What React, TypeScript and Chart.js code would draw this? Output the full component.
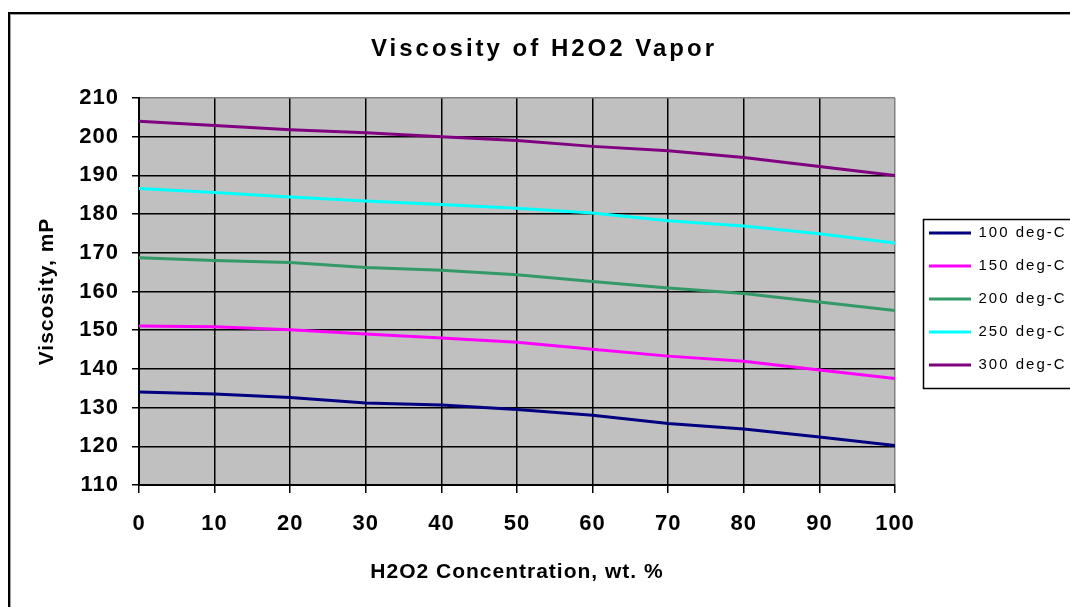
import React, { useEffect, useRef } from 'react';
import { Chart, registerables } from 'chart.js';

Chart.register(...registerables);

// ---- data ----
const concentrations = [0, 10, 20, 30, 40, 50, 60, 70, 80, 90, 100];
const visc100 = [134.0, 133.5, 132.6, 131.2, 130.7, 129.5, 128.0, 125.9, 124.5, 122.4, 120.2];
const visc150 = [151.1, 150.9, 150.1, 149.0, 148.0, 146.9, 145.1, 143.3, 142.0, 139.7, 137.5];
const visc200 = [168.7, 168.0, 167.5, 166.2, 165.5, 164.3, 162.6, 160.9, 159.5, 157.3, 155.1];
const visc250 = [186.6, 185.6, 184.4, 183.4, 182.5, 181.5, 180.3, 178.3, 176.9, 174.9, 172.5];
const visc300 = [204.0, 202.9, 201.8, 201.0, 200.0, 199.0, 197.5, 196.4, 194.6, 192.3, 190.0];
const seriesLabels = ['100 deg-C', '150 deg-C', '200 deg-C', '250 deg-C', '300 deg-C'];
const seriesColors = ['#000080', '#FF00FF', '#339966', '#00FFFF', '#800080'];
const yMin = 110;
const yMax = 210;
const yStep = 10;
const xMin = 0;
const xMax = 100;
const xStep = 10;
const chartTitle = 'Viscosity of H2O2 Vapor';
const xTitle = 'H2O2 Concentration, wt. %';
const yTitle = 'Viscosity, mP';

const FONT = "'Liberation Sans', Arial, sans-serif";
const CANVAS_W = 1072;
const CANVAS_H = 599;

function spacingFor(font: string): string {
  const m = /(\d+(?:\.\d+)?)px/.exec(font);
  const s = m ? parseFloat(m[1]) : 0;
  if (s >= 24) return '3px';
  if (s >= 20.5) return '1px';
  if (s >= 15 && s < 16) return '2px';
  return '0px';
}

function patchContext(ctx: CanvasRenderingContext2D) {
  const c = ctx as any;
  if (c.__lsPatched) return;
  c.__lsPatched = true;
  const origFill = ctx.fillText.bind(ctx);
  const origMeasure = ctx.measureText.bind(ctx);
  c.fillText = (t: string, x: number, y: number, mw?: number) => {
    const prev = c.letterSpacing;
    c.letterSpacing = spacingFor(ctx.font);
    if (mw === undefined) origFill(t, x, y);
    else origFill(t, x, y, mw);
    c.letterSpacing = prev;
  };
  c.measureText = (t: string) => {
    const prev = c.letterSpacing;
    c.letterSpacing = spacingFor(ctx.font);
    const r = origMeasure(t);
    c.letterSpacing = prev;
    return r;
  };
}

const seriesValues = [visc100, visc150, visc200, visc250, visc300];

export default function App() {
  const ref = useRef<HTMLCanvasElement>(null);

  useEffect(() => {
    const canvas = ref.current;
    if (!canvas) return;
    const ctx = canvas.getContext('2d');
    if (!ctx) return;
    patchContext(ctx);

    const datasets = seriesLabels.map((label, i) => ({
      label,
      data: concentrations.map((x, j) => ({ x, y: seriesValues[i][j] })),
      borderColor: seriesColors[i],
      backgroundColor: seriesColors[i],
      borderWidth: 3,
      pointRadius: 0,
      pointHoverRadius: 0,
      tension: 0,
      fill: false,
    }));

    const plotBg = {
      id: 'plotBg',
      beforeDraw(chart: any) {
        const { ctx: c, chartArea: a } = chart;
        c.save();
        c.fillStyle = '#C0C0C0';
        c.fillRect(a.left, a.top, a.right - a.left, a.bottom - a.top);
        c.restore();
      },
    };

    const legendTweaks = {
      id: 'legendTweaks',
      beforeLayout(chart: any) {
        const lg = chart.legend;
        if (lg && !lg.__fitPatched) {
          lg.__fitPatched = true;
          const f = lg.fit.bind(lg);
          lg.fit = () => {
            f();
            lg.width = 185;
          };
        }
      },
      afterLayout(chart: any) {
        const lg = chart.legend;
        if (!lg) return;
        lg.left = 903;
        lg.right = CANVAS_W;
        lg.width = lg.right - lg.left;
        lg.top = 199.5;
        lg.bottom = CANVAS_H;
        lg.height = lg.bottom - lg.top;
      },
      afterDraw(chart: any) {
        const lg = chart.legend;
        if (!lg || !lg.legendHitBoxes || !lg.legendHitBoxes.length) return;
        const hb = lg.legendHitBoxes;
        const left = hb[0].left - 6;
        const top = hb[0].top - 6.5;
        const last = hb[hb.length - 1];
        const bottom = last.top + last.height + 15.5;
        const c = chart.ctx;
        c.save();
        c.strokeStyle = '#000';
        c.lineWidth = 1.5;
        c.strokeRect(Math.round(left) + 0.5, Math.round(top) + 0.5, 400, Math.round(bottom - top));
        c.restore();
      },
    };

    const chart = new Chart(ctx, {
      type: 'line',
      data: { datasets },
      options: {
        animation: false,
        responsive: false,
        maintainAspectRatio: false,
        events: [],
        layout: { padding: 0 },
        font: { family: FONT },
        plugins: {
          title: {
            display: true,
            text: chartTitle,
            color: '#000',
            font: { family: FONT, size: 24, weight: 'bold' },
            padding: { top: 27, bottom: 34.2 },
          },
          legend: {
            display: true,
            position: 'right',
            align: 'start',
            labels: {
              color: '#000',
              font: { family: FONT, size: 15 },
              boxWidth: 42,
              boxHeight: 3,
              padding: 18,
              generateLabels: (ch: any) =>
                (Chart.defaults.plugins.legend.labels.generateLabels as any)(ch).map((l: any) => ({
                  ...l,
                  lineWidth: 0,
                  fillStyle: l.strokeStyle,
                })),
            },
          },
          tooltip: { enabled: false },
        },
        scales: {
          x: {
            type: 'linear',
            min: xMin,
            max: xMax,
            afterFit: (s: any) => {
              s.height = 122;
            },
            ticks: {
              stepSize: xStep,
              color: '#000',
              padding: 18,
              font: { family: FONT, size: 22, weight: 'bold' },
              maxRotation: 0,
            },
            grid: {
              color: (c: any) => (c.tick && c.tick.value === xMax ? '#808080' : '#000'),
              lineWidth: 1.5,
              tickLength: 8,
              tickColor: '#000',
              drawTicks: true,
            },
            border: { display: true, color: '#000', width: 2 },
            title: {
              display: true,
              text: xTitle,
              color: '#000',
              font: { family: FONT, size: 21, weight: 'bold' },
              padding: { top: 0, bottom: 22 },
            },
          },
          y: {
            type: 'linear',
            min: yMin,
            max: yMax,
            afterFit: (s: any) => {
              s.width = 131;
            },
            ticks: {
              stepSize: yStep,
              color: '#000',
              padding: 13,
              font: { family: FONT, size: 22, weight: 'bold' },
            },
            grid: {
              color: (c: any) => (c.tick && c.tick.value === yMax ? '#808080' : '#000'),
              lineWidth: 1.5,
              tickLength: 7,
              tickColor: '#000',
              drawTicks: true,
            },
            border: { display: true, color: '#000', width: 2 },
            title: {
              display: true,
              text: yTitle,
              color: '#000',
              font: { family: FONT, size: 21, weight: 'bold' },
              padding: { top: 26.4, bottom: 0 },
            },
          },
        },
      } as any,
      plugins: [plotBg, legendTweaks],
    });

    return () => {
      chart.destroy();
    };
  }, []);

  return (
    <div
      style={{
        position: 'fixed',
        left: 8,
        top: 8,
        width: 1062,
        height: 599,
        overflow: 'hidden',
        background: '#fff',
      }}
    >
      <canvas
        ref={ref}
        width={CANVAS_W}
        height={CANVAS_H}
        style={{ position: 'absolute', left: 0, top: 0, display: 'block' }}
      />
      <div
        style={{
          position: 'absolute',
          left: 0,
          top: 4,
          width: 2000,
          height: 2000,
          borderLeft: '2px solid #000',
          borderTop: '2px solid #000',
          boxShadow: 'inset 1px 1px 0 #a0a0a0',
          pointerEvents: 'none',
        }}
      />
    </div>
  );
}
